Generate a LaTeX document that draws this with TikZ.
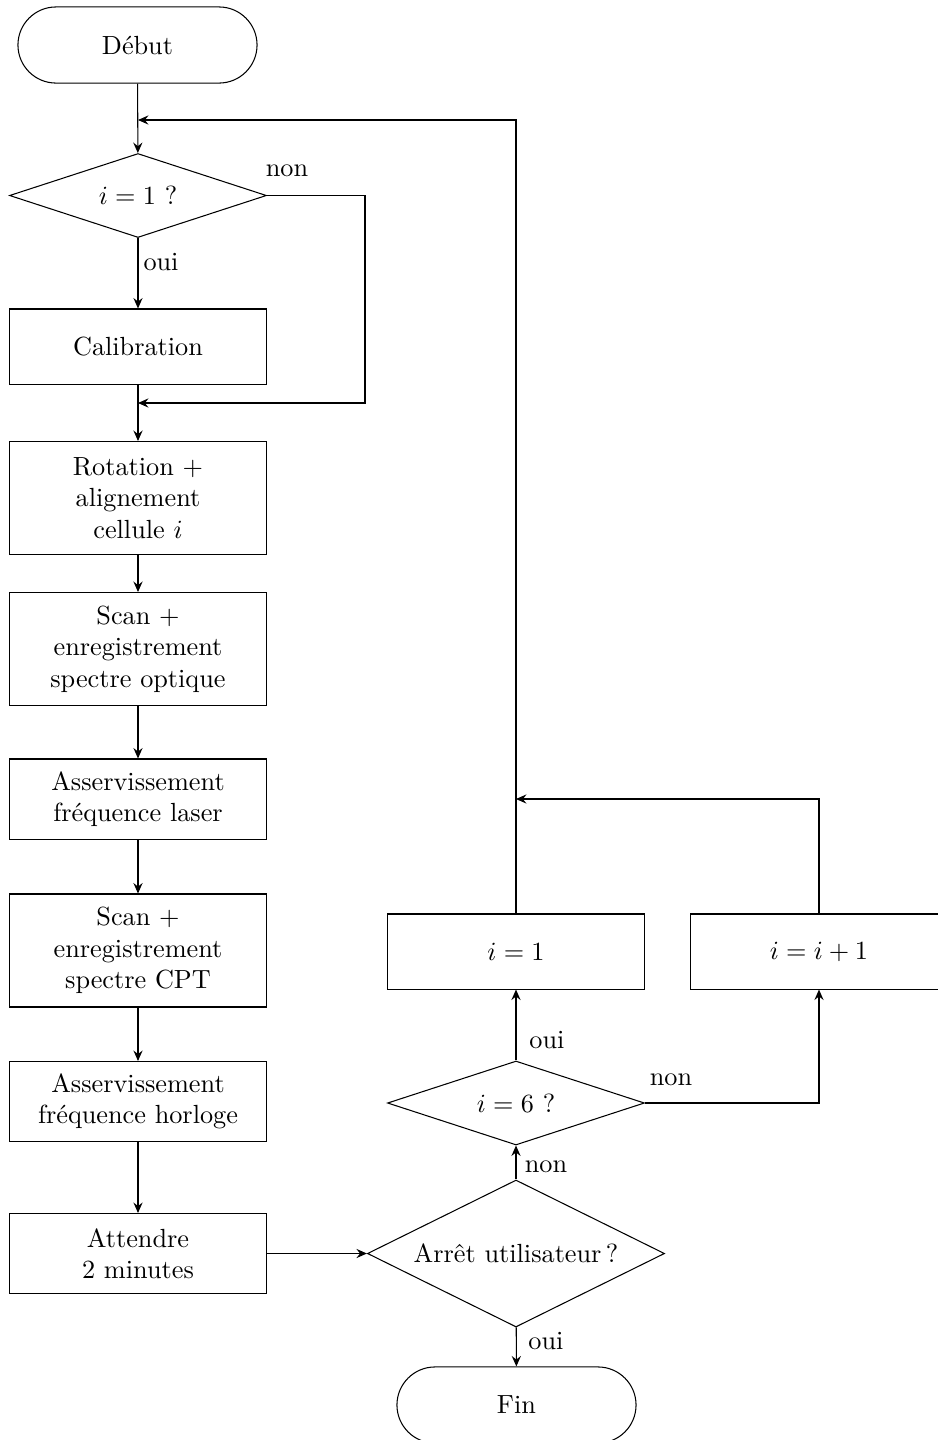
\documentclass[tikz,border=0pt]{standalone}
\usetikzlibrary{shapes.geometric,arrows.meta}
\begin{document}
\begin{tikzpicture}[x=0.381pt,y=-0.381pt,
  every node/.style={inner sep=1.5pt},
  box/.style={draw,rectangle,align=center,minimum width=97.9pt,inner sep=2pt},
  boxs/.style={box,minimum height=28.6pt},
  boxm/.style={box,minimum height=30.5pt},
  boxl/.style={box,minimum height=43.05pt},
  term/.style={draw,rectangle,rounded corners=14.5pt,minimum width=91.1pt,minimum height=29pt},
  test/.style={draw,diamond,aspect=2,inner sep=0pt,minimum width=97.9pt,minimum height=32pt},
  bigtest/.style={draw,diamond,aspect=2,inner sep=0pt,minimum width=113.2pt,minimum height=56pt},
  arr/.style={-{Stealth[length=4pt,width=3.5pt,inset=1.4pt]}},
  lbl/.style={inner sep=0pt}]
\useasboundingbox (0,0) rectangle (938,1440);
\clip (0,0) rectangle (938,1440);
% left column
\node[term] (debut) at (137.5,45) {Début};
\node[test] (d1) at (138,195.5) {$i=1$ ?};
\node[boxs] (cal) at (138,346.5) {Calibration};
\node[boxl] (rot) at (138,498) {Rotation $+$\\alignement\\cellule $i$};
\node[boxl] (scan1) at (138,649) {Scan $+$\\enregistrement\\spectre optique};
\node[boxm] (laser) at (138,799) {Asservissement\\fréquence laser};
\node[boxl] (scan2) at (138,950.5) {Scan $+$\\enregistrement\\spectre CPT};
\node[boxm] (horl) at (138,1101.5) {Asservissement\\fréquence horloge};
\node[boxm] (att) at (138,1253.5) {Attendre\\2 minutes};
% right column
\node[bigtest] (arret) at (516,1253.5) {Arrêt utilisateur\,?};
\node[test] (d6) at (516,1103) {$i=6$ ?};
\node[boxs] (set1) at (516,951.5) {$i=1$};
\node[boxs] (inc) at (819,951.5) {$i=i+1$};
\node[term] (fin) at (516.5,1405) {Fin};
% junction points
\coordinate (j1) at (138,120);
\coordinate (j2) at (138,403);
\coordinate (nr) at (365,403);
\coordinate (j3) at (516,799);
% connectors
\draw[arr] (debut) -- (d1);
\draw[arr] (d1) -- (cal);
\draw[arr] (cal) -- (rot);
\draw[arr] (d1.east) -| (nr) -- (j2);
\draw[arr] (rot) -- (scan1);
\draw[arr] (scan1) -- (laser);
\draw[arr] (laser) -- (scan2);
\draw[arr] (scan2) -- (horl);
\draw[arr] (horl) -- (att);
\draw[arr] (att) -- (arret);
\draw[arr] (arret) -- (d6);
\draw[arr] (d6) -- (set1);
\draw[arr] (d6.east) -| (inc.south);
\draw[arr] (inc.north) |- (j3);
\draw[arr] (set1.north) |- (j1);
\draw[arr] (arret) -- (fin);
% labels
\node[lbl] (l1) at (287,171) {non};
\node[lbl,anchor=west] (l2) at (143,262) {oui};
\node[lbl] (l3) at (671,1080) {non};
\node[lbl] (l4) at (547,1040) {oui};
\node[lbl] (l5) at (546,1167) {non};
\node[lbl] (l6) at (546,1341) {oui};
\end{tikzpicture}
\end{document}
